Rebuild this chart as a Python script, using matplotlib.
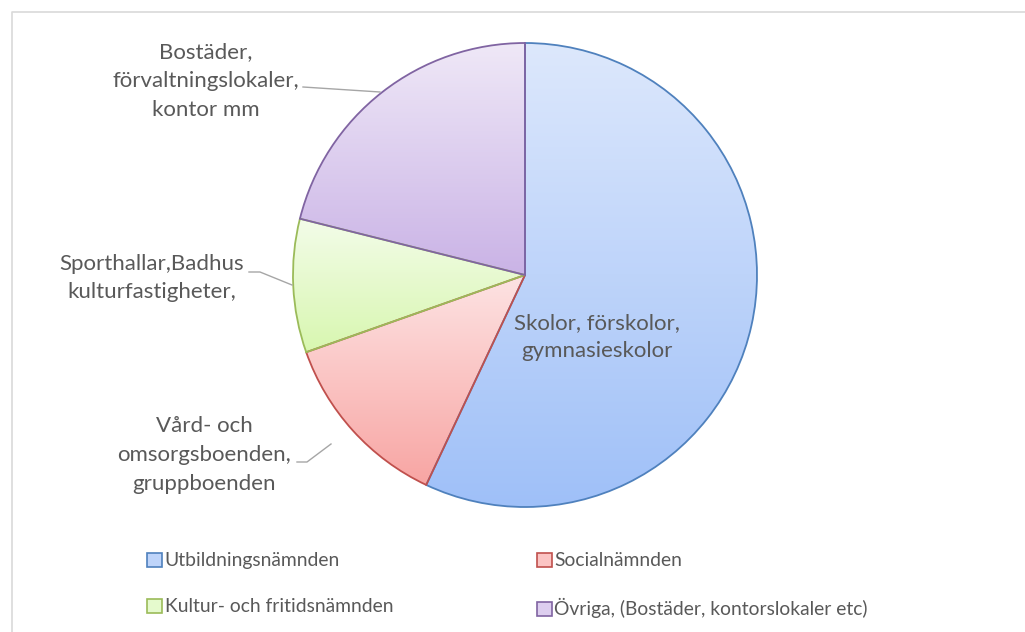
import numpy as np
import matplotlib
matplotlib.use("Agg")
import matplotlib.pyplot as plt
from matplotlib.colors import LinearSegmentedColormap, to_rgb
from matplotlib.patches import Patch
from matplotlib.lines import Line2D

plt.rcParams['font.family'] = ['Lato', 'DejaVu Sans']

# data (share of area, %)
categories = ['Utbildningsnämnden', 'Socialnämnden',
              'Kultur- och fritidsnämnden', 'Övriga, (Bostäder, kontorslokaler etc)']
shares = [57.0, 12.6, 9.3, 21.1]
slice_labels = ['Skolor, förskolor,\ngymnasieskolor',
                'Vård- och\nomsorgsboenden,\ngruppboenden',
                'Sporthallar,Badhus\nkulturfastigheter,',
                'Bostäder,\nförvaltningslokaler,\nkontor mm']

edge_colors = ['#4f81bd', '#c0504d', '#9bbb59', '#8064a2']
top_colors = ['#dde8fc', '#fde3e3', '#f3fce9', '#efe8f7']
bottom_colors = ['#9fc0f8', '#f8a5a3', '#d8f7b0', '#cab3e6']
text_color = '#595959'

W, H = 1025, 632
fig = plt.figure(figsize=(W / 100, H / 100), dpi=100)
ax = fig.add_axes([0, 0, 1, 1])

def py(y):
    # pixel y from top -> data y
    return H - y

wedges, _ = ax.pie(shares, startangle=90, counterclock=False,
                   center=(525, py(275)), radius=232,
                   wedgeprops=dict(linewidth=1.3))

# vertical gradient inside each slice
grad = np.linspace(0, 1, 256).reshape(-1, 1)
for w, ec, tc, bc in zip(wedges, edge_colors, top_colors, bottom_colors):
    verts = w.get_path().vertices
    x0, y0 = verts.min(axis=0)
    x1, y1 = verts.max(axis=0)
    cmap = LinearSegmentedColormap.from_list('g', [tc, bc])
    im = ax.imshow(grad, cmap=cmap, extent=(x0, x1, y0, y1), origin='upper',
                   aspect='auto', zorder=1, interpolation='bilinear')
    im.set_clip_path(w)
    w.set_facecolor('none')
    w.set_edgecolor(ec)
    w.set_zorder(3)
ax.set_xlim(0, W)
ax.set_ylim(0, H)
ax.set_aspect('equal')
ax.axis('off')

fs = 16
ls = 1.55
# slice labels
ax.text(597, py(337), slice_labels[0], ha='center', va='center', fontsize=fs,
        color=text_color, linespacing=ls, zorder=5)
ax.text(204, py(455), slice_labels[1], ha='center', va='center', fontsize=fs,
        color=text_color, linespacing=ls, zorder=5)
ax.text(152, py(278), slice_labels[2], ha='center', va='center', fontsize=fs,
        color=text_color, linespacing=ls, zorder=5)
ax.text(206, py(81), slice_labels[3], ha='center', va='center', fontsize=fs,
        color=text_color, linespacing=ls, zorder=5)

# leader lines
leader = dict(color='#a6a6a6', linewidth=1.0, zorder=4)
ax.plot([297, 307, 331], [py(462), py(462), py(444)], **leader)
ax.plot([249, 260, 292], [py(272), py(272), py(285)], **leader)
ax.plot([303, 380], [py(87), py(92)], **leader)

# chart border
ax.add_line(Line2D([12, 12, W], [0, py(12), py(12)], color='#d9d9d9', linewidth=1.2))

# legend (row-wise order like the original)
handles = [Patch(facecolor=(np.array(to_rgb(t)) + np.array(to_rgb(b))) / 2,
                 edgecolor=e, linewidth=1.2)
           for t, b, e in zip(top_colors, bottom_colors, edge_colors)]
order = [0, 2, 1, 3]
leg = fig.legend([handles[i] for i in order], [categories[i] for i in order],
                 ncol=2, loc='upper left',
                 bbox_to_anchor=(130 / W, 1 - 535 / H), frameon=False,
                 fontsize=13.9, handlelength=0.75, handleheight=0.75,
                 handletextpad=0.15, columnspacing=7.45, labelspacing=1.5)
for t in leg.get_texts():
    t.set_color(text_color)

fig.savefig('out.png', dpi=100)
